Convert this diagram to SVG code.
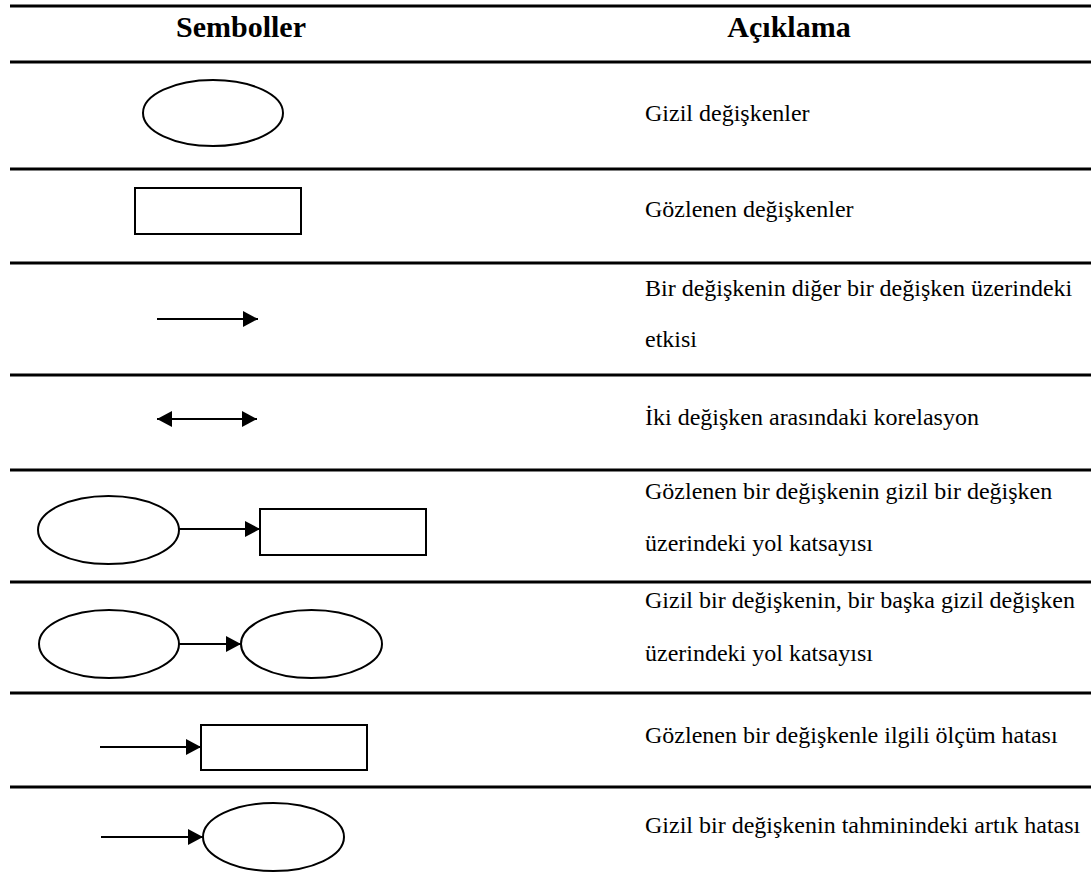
<svg xmlns="http://www.w3.org/2000/svg" width="1091" height="878" viewBox="0 0 1091 878">
  <style>
    .rule { stroke: #000; stroke-width: 3; }
    .shape { fill: #fff; stroke: #000; stroke-width: 2; }
    .edge { stroke: #000; stroke-width: 2; fill: none; }
    .head { font-weight: bold; font-size: 30px; fill: #000; text-anchor: middle; }
    .desc { font-size: 24px; fill: #000; }
  </style>
  <defs>
    <marker id="arrow-end" markerUnits="userSpaceOnUse" markerWidth="16" markerHeight="18" refX="15" refY="8" orient="auto">
      <path d="M0,0 L15,8 L0,16 Z" fill="#000"/>
    </marker>
    <marker id="arrow-start" markerUnits="userSpaceOnUse" markerWidth="16" markerHeight="18" refX="0" refY="8" orient="auto">
      <path d="M15,0 L0,8 L15,16 Z" fill="#000"/>
    </marker>
  </defs>
  <rect width="1091" height="878" fill="#fff"/>

  <!-- table rules -->
  <g id="rules">
    <line class="rule" x1="10" y1="6" x2="1091" y2="6"/>
    <line class="rule" x1="10" y1="62" x2="1091" y2="62"/>
    <line class="rule" x1="10" y1="169" x2="1091" y2="169"/>
    <line class="rule" x1="10" y1="263" x2="1091" y2="263"/>
    <line class="rule" x1="10" y1="375" x2="1091" y2="375"/>
    <line class="rule" x1="10" y1="470" x2="1091" y2="470"/>
    <line class="rule" x1="10" y1="582" x2="1091" y2="582"/>
    <line class="rule" x1="10" y1="693" x2="1091" y2="693"/>
    <line class="rule" x1="10" y1="787" x2="1091" y2="787"/>
  </g>

  <!-- column headings -->
  <g id="headings" font-family="Liberation Serif">
    <text class="head" x="241" y="37">Semboller</text>
    <text class="head" x="789" y="37">Açıklama</text>
  </g>

  <!-- symbol shapes -->
  <g id="latent"><ellipse class="shape" cx="213" cy="113" rx="70" ry="33"/></g>
  <g id="observed"><rect class="shape" x="135" y="188" width="166" height="46"/></g>

  <g id="row5-latent"><ellipse class="shape" cx="108.5" cy="530" rx="70.5" ry="34"/></g>
  <g id="row5-observed"><rect class="shape" x="260" y="509" width="166" height="46"/></g>

  <g id="row6-latent-a"><ellipse class="shape" cx="109" cy="644" rx="70" ry="34"/></g>
  <g id="row6-latent-b"><ellipse class="shape" cx="311.5" cy="644" rx="70.5" ry="34"/></g>

  <g id="row7-observed"><rect class="shape" x="201" y="725" width="166" height="45"/></g>

  <g id="row8-latent"><ellipse class="shape" cx="273.5" cy="837" rx="70.5" ry="34"/></g>

  <!-- connectors -->
  <g id="connectors">
    <line class="edge" x1="157" y1="319" x2="258" y2="319" marker-end="url(#arrow-end)"/>
    <line class="edge" x1="157" y1="419" x2="257" y2="419" marker-start="url(#arrow-start)" marker-end="url(#arrow-end)"/>
    <line class="edge" x1="179" y1="529" x2="260" y2="529" marker-end="url(#arrow-end)"/>
    <line class="edge" x1="179" y1="644" x2="241" y2="644" marker-end="url(#arrow-end)"/>
    <line class="edge" x1="100" y1="747" x2="201" y2="747" marker-end="url(#arrow-end)"/>
    <line class="edge" x1="101" y1="837" x2="203" y2="837" marker-end="url(#arrow-end)"/>
  </g>

  <!-- descriptions -->
  <g id="descriptions" font-family="Liberation Serif">
    <text class="desc" x="645" y="121">Gizil değişkenler</text>
    <text class="desc" x="645" y="217">Gözlenen değişkenler</text>
    <text class="desc" x="645" y="296">Bir değişkenin diğer bir değişken üzerindeki</text>
    <text class="desc" x="645" y="347">etkisi</text>
    <text class="desc" x="645" y="425">İki değişken arasındaki korelasyon</text>
    <text class="desc" x="645" y="499">Gözlenen bir değişkenin gizil bir değişken</text>
    <text class="desc" x="645" y="551">üzerindeki yol katsayısı</text>
    <text class="desc" x="645" y="608">Gizil bir değişkenin, bir başka gizil değişken</text>
    <text class="desc" x="645" y="661">üzerindeki yol katsayısı</text>
    <text class="desc" x="645" y="743">Gözlenen bir değişkenle ilgili ölçüm hatası</text>
    <text class="desc" x="645" y="833">Gizil bir değişkenin tahminindeki artık hatası</text>
  </g>
</svg>
